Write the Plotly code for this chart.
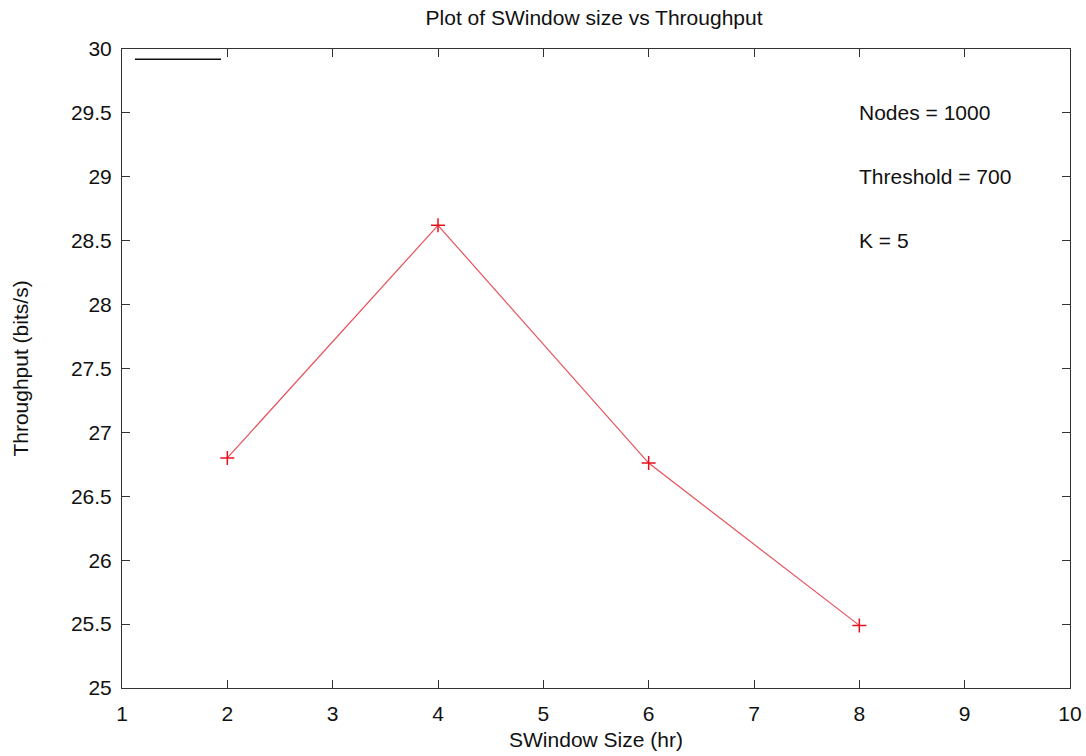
import plotly.graph_objects as go

window_size = [2, 4, 6, 8]
throughput = [26.80, 28.62, 26.76, 25.49]
x_ticks = [1, 2, 3, 4, 5, 6, 7, 8, 9, 10]
y_ticks = [25, 25.5, 26, 26.5, 27, 27.5, 28, 28.5, 29, 29.5, 30]
annotations_text = ["Nodes = 1000", "Threshold = 700", "K = 5"]
annotation_y = [29.5, 29.0, 28.5]

FONT = "Liberation Sans, Arial, sans-serif"
FS = 21

fig = go.Figure()
fig.add_trace(go.Scatter(
    x=window_size, y=throughput, mode="lines+markers",
    line=dict(color="#e8515a", width=1.2),
    marker=dict(symbol="cross-thin", size=10, line=dict(color="#e8101e", width=1.5), color="#e8101e"),
    showlegend=False,
))

axis_common = dict(
    showgrid=False, zeroline=False, showline=True, linecolor="#333", linewidth=1,
    mirror="ticks", ticks="inside", ticklen=8, tickcolor="#333",
    tickfont=dict(family=FONT, size=FS, color="#111"),
    automargin=False, ticklabeloverflow="allow",
)
fig.update_xaxes(range=[1, 10], tickvals=x_ticks, ticktext=[str(v) for v in x_ticks],
                 ticklabelstandoff=7,
                 title=dict(text="SWindow Size (hr)", font=dict(family=FONT, size=FS, color="#111"), standoff=8),
                 **axis_common)
fig.update_yaxes(range=[25, 30], tickvals=y_ticks, ticktext=[f"{v:g}" for v in y_ticks],
                 ticklabelstandoff=5,
                 title=dict(text="Throughput (bits/s)", font=dict(family=FONT, size=FS, color="#111"), standoff=36),
                 **axis_common)

for txt, yv in zip(annotations_text, annotation_y):
    fig.add_annotation(x=7.98, y=yv, xref="x", yref="y", text=txt, showarrow=False,
                       xanchor="left", yanchor="middle",
                       font=dict(family=FONT, size=FS, color="#111"))

# empty legend key line
fig.add_shape(type="line", xref="paper", yref="paper", x0=0.0137, x1=0.1044, y0=0.984, y1=0.984,
              line=dict(color="#111", width=1.5))

fig.update_layout(
    width=1086, height=756,
    margin=dict(l=122, r=16, t=49, b=68),
    paper_bgcolor="white", plot_bgcolor="white",
    title=dict(text="Plot of SWindow size vs Throughput", x=0.547, xanchor="center", y=0.976, yanchor="middle",
               font=dict(family=FONT, size=FS, color="#111")),
)
fig.write_html("out.html", config={"displayModeBar": False},
               post_script="document.body.style.margin='0';document.body.style.overflow='hidden';")
